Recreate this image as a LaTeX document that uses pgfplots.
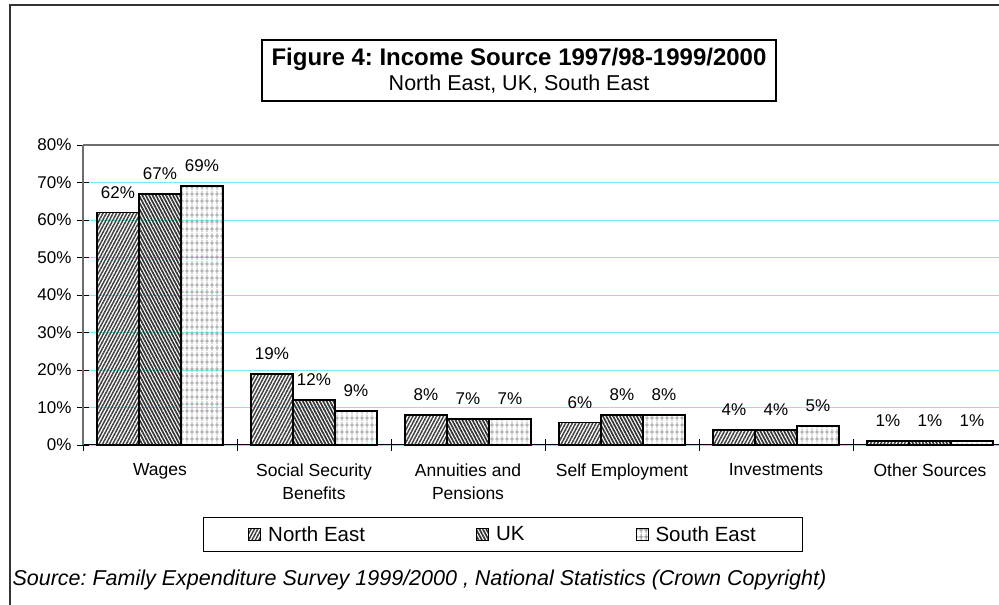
\documentclass[border=0pt]{standalone}
\usepackage{fontspec}
\setmainfont{Liberation Sans}
\usepackage{pgfplots}
\pgfplotsset{compat=1.18}
\usetikzlibrary{patterns,patterns.meta}
\frenchspacing

% grid fill used by the South East bars
\pgfdeclarepatternformonly{segrid}{\pgfpointorigin}{\pgfpoint{4.5pt}{6.5pt}}{\pgfpoint{4.5pt}{6.5pt}}{%
  \pgfsetlinewidth{0.9pt}%
  \pgfpathmoveto{\pgfpoint{2.25pt}{0pt}}\pgfpathlineto{\pgfpoint{2.25pt}{6.5pt}}%
  \pgfpathmoveto{\pgfpoint{0pt}{3.25pt}}\pgfpathlineto{\pgfpoint{4.5pt}{3.25pt}}%
  \pgfusepath{stroke}}

\definecolor{gridcyan}{RGB}{110,240,245}
\definecolor{axisgray}{RGB}{110,110,110}

\newcommand{\tfont}{\fontsize{17}{20}\selectfont}

\begin{document}
\begin{tikzpicture}[x=1pt,y=1pt]
\useasboundingbox (0,0) rectangle (999,605);

% outer frame of the chart area
\draw[line width=1.6pt, black!80] (10,-5) -- (10,600) -- (1005,600);

% title box
\draw[line width=2pt] (262,504) rectangle (776,565);
\node[font=\fontsize{24}{28}\selectfont\bfseries] at (519,546) {Figure 4: Income Source 1997/98-1999/2000};
\node[font=\fontsize{21.5}{25}\selectfont] at (519,521) {North East, UK, South East};

\begin{axis}[
    at={(83pt,160pt)}, anchor=south west,
    width=924pt, height=300pt, scale only axis,
    xmin=-0.5, xmax=5.5,
    ymin=0, ymax=80,
    ybar=0pt, bar width=42pt,
    axis lines*=left,
    x axis line style={black, line width=1pt},
    y axis line style={axisgray, line width=1.5pt},
    ytick={0,10,...,80},
    yticklabel={\pgfmathprintnumber{\tick}\%},
    xtick={0,...,5},
    xticklabels={Wages,{Social Security\\Benefits},{Annuities and\\Pensions},Self Employment,Investments,Other Sources},
    major x tick style={draw=none},
    minor xtick={-0.5,0.5,...,5.5},
    tick align=center,
    major tick length=12pt, minor tick length=12pt,
    tick style={black, line width=0.8pt},
    ymajorgrids, grid style={gridcyan, line width=0.9pt},
    /pgf/number format/assume math mode=true,
    tick label style={font=\tfont},
    xticklabel style={align=center, yshift=-9pt, font=\fontsize{17.5}{23}\selectfont},
    yticklabel style={xshift=-2pt},
    nodes near coords={\pgfmathprintnumber{\pgfplotspointmeta}\%},
    nodes near coords style={font=\tfont, yshift=10pt},
    every axis plot/.append style={draw=black, line width=1.8pt},
    legend columns=3,
    legend style={at={(0.4546,-0.298)}, anchor=center, draw=black, line width=1pt,
        font=\fontsize{20.5}{24}\selectfont, inner xsep=45pt, inner ysep=7pt,
        /tikz/every odd column/.append style={column sep=5pt},
        /tikz/every even column/.append style={column sep=109pt}},
    legend image code/.code={\draw[#1, line width=1pt] (0pt,-6pt) rectangle (12pt,6pt);},
    clip=false,
  ]
  \addplot[pattern={Lines[angle=62,distance=3pt,line width=1.5pt]}, pattern color=black!75]
    coordinates {(0,62) (1,19) (2,8) (3,6) (4,4) (5,1)};
  \addplot[pattern={Lines[angle=118,distance=3pt,line width=1.7pt]}, pattern color=black!80]
    coordinates {(0,67) (1,12) (2,7) (3,8) (4,4) (5,1)};
  \addplot[pattern=segrid, pattern color=black!45]
    coordinates {(0,69) (1,9) (2,7) (3,8) (4,5) (5,1)};
  \legend{North East,UK,South East}
  \draw[axisgray, line width=1.5pt] (rel axis cs:0,1) -- (rel axis cs:1,1);
\end{axis}

% source line
\node[anchor=west, font=\fontsize{21.5}{25}\selectfont\itshape] at (9,25)
  {Source: Family Expenditure Survey 1999/2000 , National Statistics (Crown Copyright)};
\end{tikzpicture}
\end{document}
